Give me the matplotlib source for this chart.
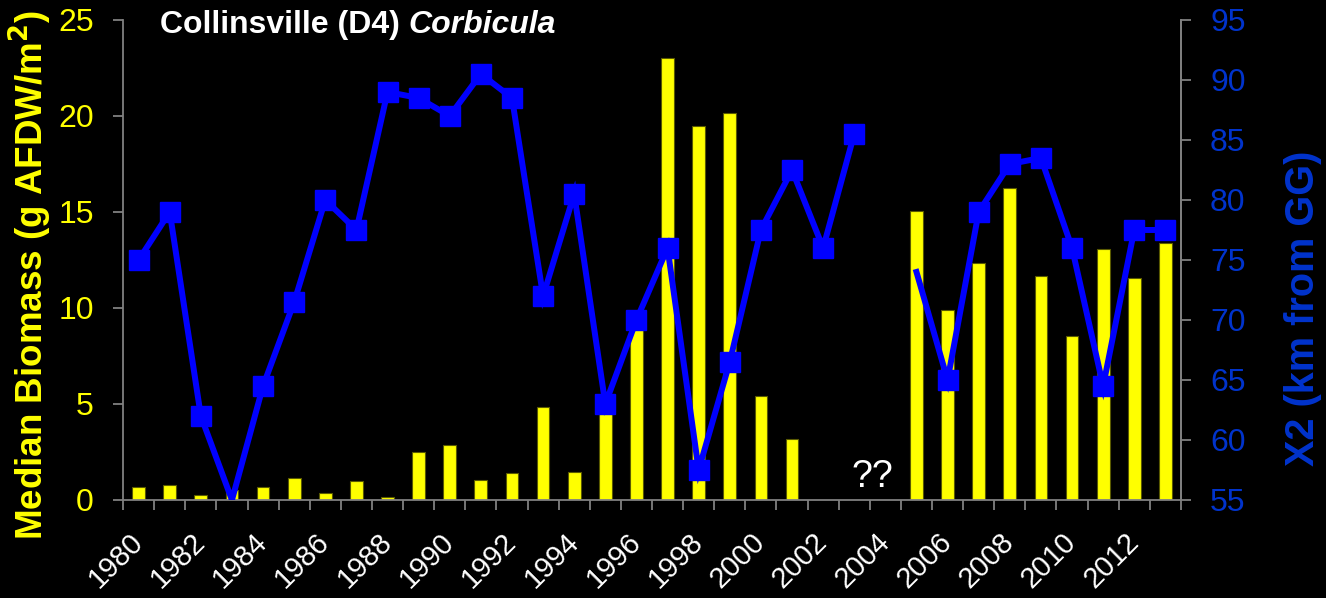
import numpy as np
import matplotlib
matplotlib.use("Agg")
import matplotlib.pyplot as plt
from matplotlib.ticker import FixedLocator, NullFormatter

plt.rcParams['font.family'] = ['Liberation Sans', 'DejaVu Sans']

years = list(range(1980, 2014))
biomass = [0.68, 0.79, 0.28, 0.50, 0.70, 1.15, 0.38, 0.99, 0.18, 2.52,
           2.88, 1.05, 1.42, 4.86, 1.44, 5.0, 9.0, 23.0, 19.5, 20.15,
           5.4, 3.18, np.nan, np.nan, np.nan, 15.06, 9.88, 12.35, 16.25, 11.67,
           8.53, 13.09, 11.58, 13.39]
x2 = [75.0, 79.0, 62.0, 55.0, 64.5, 71.5, 80.0, 77.5, 89.0, 88.5,
      87.0, 90.5, 88.5, 72.0, 80.5, 63.0, 70.0, 76.0, 57.5, 66.5,
      77.5, 82.5, 76.0, 85.5, np.nan, 74.0, 65.0, 79.0, 83.0, 83.5,
      76.0, 64.5, 77.5, 77.5]
x2_no_marker_years = [1983, 2005]
label_years = [y for y in years if y % 2 == 0]

title_plain = "Collinsville (D4) "
title_italic = "Corbicula"
left_label = "Median Biomass (g AFDW/m$^\\mathbf{2}$)"
right_label = "X2 (km from GG)"
gap_note = "??"
gap_note_year = 2003

YELLOW = "#FFFF00"
BLUE = "#0000FF"
RBLUE = "#0033CC"
GRAY = "#808080"

fig = plt.figure(figsize=(13.26, 5.98), dpi=100, facecolor="black")
ax = fig.add_axes([0.0928, 0.1639, 0.8906 - 0.0928, 0.9666 - 0.1639])
ax.set_facecolor("black")
idx = np.arange(len(years))

ax.bar(idx, biomass, width=0.41, color=YELLOW, edgecolor="#5a5a00", linewidth=0.8, zorder=2)
ax.set_xlim(-0.5, len(years) - 0.5)
ax.set_ylim(0, 25)
ax.set_yticks([0, 5, 10, 15, 20, 25])

ax2 = ax.twinx()
ax2.set_ylim(55, 95)
ax2.set_yticks([55, 60, 65, 70, 75, 80, 85, 90, 95])
ax2.plot(idx, x2, color=BLUE, lw=4.3, zorder=3, solid_joinstyle="miter")
mk = [i for i, y in enumerate(years) if y not in x2_no_marker_years]
ax2.plot(idx[mk], np.array(x2)[mk], linestyle="none", marker="s", markersize=14.5,
         color=BLUE, zorder=4)

for a in (ax, ax2):
    for s in a.spines.values():
        s.set_color(GRAY)
        s.set_linewidth(1.3)
    a.spines["top"].set_visible(False)

ax2.spines["left"].set_visible(False)
ax2.spines["bottom"].set_visible(False)

# x ticks: minor marks at category boundaries, labels at centers
ax.xaxis.set_minor_locator(FixedLocator(np.arange(-0.5, len(years), 1.0)))
ax.xaxis.set_minor_formatter(NullFormatter())
ax.tick_params(axis="x", which="minor", length=7, width=1.3, color=GRAY, direction="out")
lab_idx = [years.index(y) for y in label_years]
ax.set_xticks(lab_idx)
ax.set_xticklabels([str(y) for y in label_years], rotation=45, ha="right",
                   rotation_mode="anchor", va="center", color="white", fontsize=21)
ax.tick_params(axis="x", which="major", length=0, pad=27)

ax.tick_params(axis="y", length=7, width=1.3, color=GRAY, labelcolor=YELLOW,
               labelsize=23, pad=14, direction="out")
ax2.tick_params(axis="y", length=7, width=1.3, color=GRAY, labelcolor=RBLUE,
                labelsize=23, pad=14, direction="out")

ax.set_ylabel(left_label, color=YELLOW, fontsize=26.5, fontweight="bold")
ax.yaxis.set_label_coords(-0.065, 0.469)
ax2.set_ylabel(right_label, color=RBLUE, fontsize=28.5, fontweight="bold")
ax2.yaxis.set_label_coords(1.097, 0.40)

t1 = ax.text(0.035, 0.99, title_plain, transform=ax.transAxes, color="white",
             fontsize=23, fontweight="bold", ha="left", va="center", zorder=5)
fig.canvas.draw()
bb = t1.get_window_extent()
x_end = ax.transAxes.inverted().transform((bb.x1, bb.y0))[0]
ax.text(x_end, 0.99, title_italic, transform=ax.transAxes, color="white",
        fontsize=23, fontweight="bold", style="italic", ha="left", va="center", zorder=5)

ax.text(years.index(gap_note_year) + 0.58, 0.25, gap_note, color="white", fontsize=27,
        ha="center", va="bottom", zorder=5)

fig.savefig("out.png", dpi=100, facecolor="black")
